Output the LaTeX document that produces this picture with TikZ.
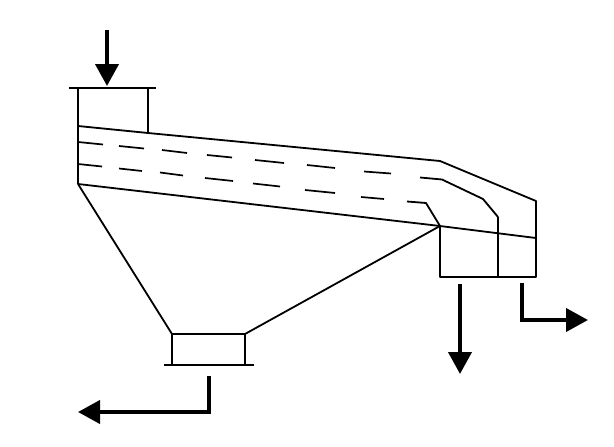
\documentclass[tikz,border=0pt]{standalone}
\usetikzlibrary{arrows.meta}

\tikzset{
    wall/.style={line width=1.8pt,line join=round},
    bar/.style={line width=2.2pt},
    dash line/.style={line width=1.7pt},
    flow/.style={line width=4pt,-{Triangle[length=22pt,width=23pt]}},
}

\begin{document}
\begin{tikzpicture}[x=1pt,y=-1pt]
    \useasboundingbox (0,0) rectangle (614,447);

    \coordinate (a1) at (78,88);
    \coordinate (a2) at (148,88);
    \coordinate (a3) at (69,88);
    \coordinate (a4) at (156,88);
    \coordinate (a5) at (78,126);
    \coordinate (a6) at (148,133);
    \coordinate (a7) at (78,184);

    \coordinate (b1) at (440,161);
    \coordinate (b2) at (536,201);
    \coordinate (b3) at (440,226);
    \coordinate (b4) at (536,238);
    \coordinate (b5) at (536,277);
    \coordinate (b6) at (440,277);
    \coordinate (b7) at (498,217);
    \coordinate (b8) at (498,277);

    \coordinate (c1) at (172,334);
    \coordinate (c2) at (245,334);
    \coordinate (c3) at (172,365);
    \coordinate (c4) at (245,365);
    \coordinate (c5) at (164,365);
    \coordinate (c6) at (254,365);

    \coordinate (d1) at (107,30);
    \coordinate (d2) at (107,86);
    \coordinate (d3) at (460,284);
    \coordinate (d4) at (460,374);
    \coordinate (d5) at (522,283);
    \coordinate (d6) at (522,320);
    \coordinate (d7) at (588,320);
    \coordinate (d8) at (209,376);
    \coordinate (d9) at (209,412);
    \coordinate (d10) at (78,412);

    \draw[bar] (a3) -- (a4);
    \draw[bar,line width=2.8pt] (c1) -- (c2);
    \draw[bar] (c5) -- (c6);

    \draw[wall] (a1) -- (a7);
    \draw[wall,line width=2.6pt] (a2) -- (a6);
    \draw[wall] (a5) -- (a6) -- (b1) -- (b2) -- (b5) -- (b6) -- (b3);
    \draw[wall] (a7) -- (b3) -- (b4);
    \draw[wall,line width=2.6pt] (b7) -- (b8);
    \draw[wall] (a7) -- (c1) -- (c3);
    \draw[wall] (b3) -- (c2) -- (c4);

    \foreach \xa/\ya/\xb/\yb in {78/142/103/144.5,119/146/144/148.5,162/150/187/153,207/155/232/157.5,255/160/284/163,307/165/335/168,364/171.5/391/173.5,
        78/164/102/166.5,119/168.5/142/171,160/172.5/183/175.5,205/178/233/181,253/183.5/280/186.5,305/190/335/193,361/197/384/199}
        \draw[dash line] (\xa,\ya) -- (\xb,\yb);

    \draw[wall] (420,177.5) -- (442,179.5) -- (483,199) -- (b7);
    \draw[wall] (407,201.5) -- (426,203) -- (b3);

    \draw[flow] (d1) -- (d2);
    \draw[flow] (d3) -- (d4);
    \draw[flow] (d5) -- (d6) -- (d7);
    \draw[flow] (d8) -- (d9) -- (d10);
\end{tikzpicture}
\end{document}
